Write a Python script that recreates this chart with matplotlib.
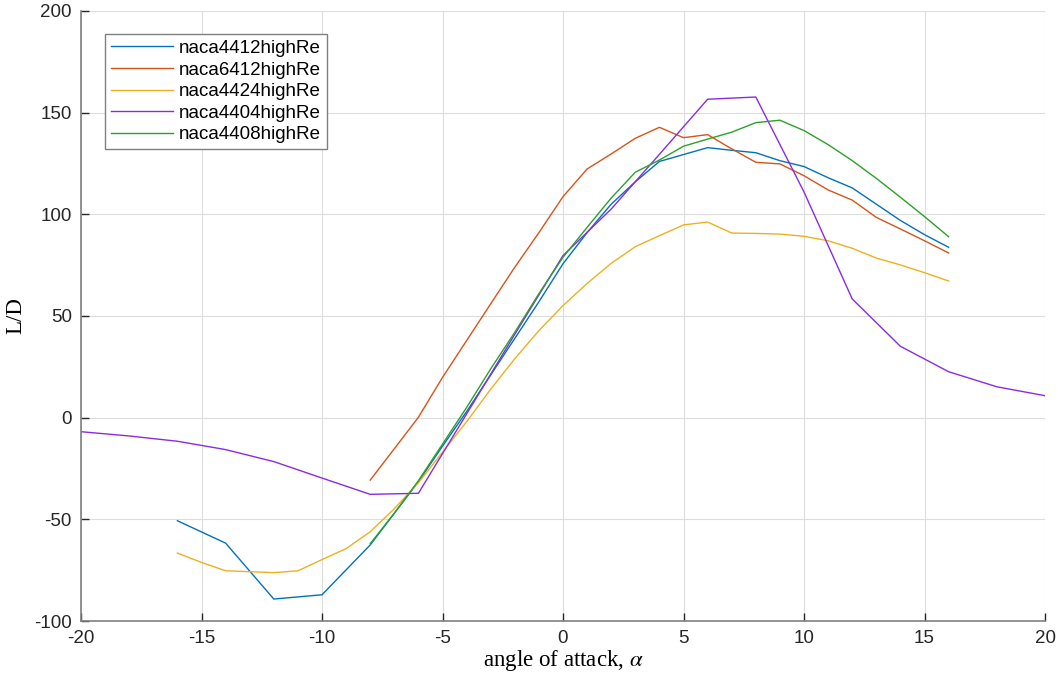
import matplotlib
matplotlib.use('Agg')
import matplotlib.pyplot as plt

plt.rcParams['axes.unicode_minus'] = False
plt.rcParams['mathtext.fontset'] = 'stix'

# angle of attack (deg) and L/D for each airfoil
alpha_4412 = [-16, -14, -12, -10, -8, -7, -6, -5, -4, -3, -2, -1, 0, 1, 2, 3, 4, 5, 6, 7, 8, 9, 10, 11, 12, 13, 14, 15, 16]
ld_4412 = [-50.7, -61.7, -89.2, -87.1, -62.6, -47, -31.5, -14, 3, 21, 39, 57, 75.7, 91, 105, 116, 126, 129.4, 132.8, 131.5, 130.3, 126.4, 123.5, 118, 113, 105, 97, 90, 83.8]

alpha_6412 = [-8, -7, -6, -5, -4, -3, -2, -1, 0, 1, 2, 3, 4, 5, 6, 7, 8, 9, 10, 11, 12, 13, 14, 15, 16]
ld_6412 = [-30.7, -15.3, 0.2, 19.8, 37.9, 56, 74, 91, 108.7, 122.3, 129.7, 137.4, 142.8, 137.7, 139.2, 132.2, 125.6, 124.8, 119, 112, 107, 98.5, 92.8, 87, 81]

alpha_4424 = [-16, -15, -14, -12, -11, -10, -9, -8, -7, -6, -5, -4, -3, -2, -1, 0, 1, 2, 3, 4, 5, 6, 7, 8, 9, 10, 11, 12, 13, 14, 15, 16]
ld_4424 = [-66.6, -71.2, -75.3, -76.2, -75.3, -69.8, -64.4, -56.1, -44.8, -32, -17, -2, 14, 29, 42.8, 55.1, 66, 75.9, 84.1, 89.5, 94.8, 96.2, 90.8, 90.6, 90.3, 89.2, 87, 83.3, 78.5, 75.1, 71.3, 67.2]

alpha_4404 = [-20, -18, -16, -14, -12, -10, -8, -6, -4, -2, 0, 2, 4, 6, 8, 10, 12, 14, 16, 18, 20]
ld_4404 = [-6.9, -9, -11.6, -15.7, -21.6, -29.7, -37.7, -37.2, 1.8, 41, 79.7, 102.6, 129.5, 156.6, 157.7, 111, 58.4, 35.1, 22.6, 15.2, 10.8]

alpha_4408 = [-8, -7, -6, -5, -4, -3, -2, -1, 0, 1, 2, 3, 4, 5, 6, 7, 8, 9, 10, 11, 12, 13, 14, 15, 16]
ld_4408 = [-62, -47, -31, -13, 5, 24, 42, 61, 78.9, 93.6, 108, 120.7, 126.7, 133.5, 137, 140.4, 145.1, 146.3, 141.2, 134.3, 126.4, 117.7, 108.4, 98.9, 89]

series = [
    (alpha_4412, ld_4412, 'naca4412highRe', '#0072BD'),
    (alpha_6412, ld_6412, 'naca6412highRe', '#D95319'),
    (alpha_4424, ld_4424, 'naca4424highRe', '#EDB120'),
    (alpha_4404, ld_4404, 'naca4404highRe', '#8A2BE2'),
    (alpha_4408, ld_4408, 'naca4408highRe', '#2CA02C'),
]

fig = plt.figure(figsize=(10.58, 6.82), dpi=100)
ax = fig.add_axes([81 / 1058, 61 / 682, 964 / 1058, 610 / 682])

for a, ld, name, col in series:
    ax.plot(a, ld, color=col, lw=1.0, label=name)

ax.set_xlim(-20, 20)
ax.set_ylim(-100, 200)
ax.set_xticks(range(-20, 21, 5))
ax.set_yticks(range(-100, 201, 50))
ax.grid(True, color='#dddddd', lw=0.8)
ax.set_axisbelow(True)

for s in ['top', 'right']:
    ax.spines[s].set_visible(False)
for s in ['left', 'bottom']:
    ax.spines[s].set_color('#808080')
    ax.spines[s].set_linewidth(1.2)
ax.tick_params(direction='in', length=6, colors='#262626', labelsize=13.5, width=1, pad=6.5)
for lab in ax.get_xticklabels() + ax.get_yticklabels():
    lab.set_family('Liberation Sans')

ax.set_xlabel(r'angle of attack, $\alpha$', family='Liberation Serif', fontsize=16.5, labelpad=1)
ax.set_ylabel('L/D', family='Liberation Serif', fontsize=16.5, labelpad=6)

leg = ax.legend(loc='upper left', bbox_to_anchor=(0.025, 0.962), fancybox=False,
                prop={'family': 'Liberation Sans', 'size': 13.5}, handlelength=3.3,
                handletextpad=0.35, labelspacing=0.24, borderpad=0.3, borderaxespad=0)
leg.get_frame().set_edgecolor('#808080')
leg.get_frame().set_linewidth(1.0)
leg.get_frame().set_alpha(1)

fig.savefig('out.png', dpi=100)
